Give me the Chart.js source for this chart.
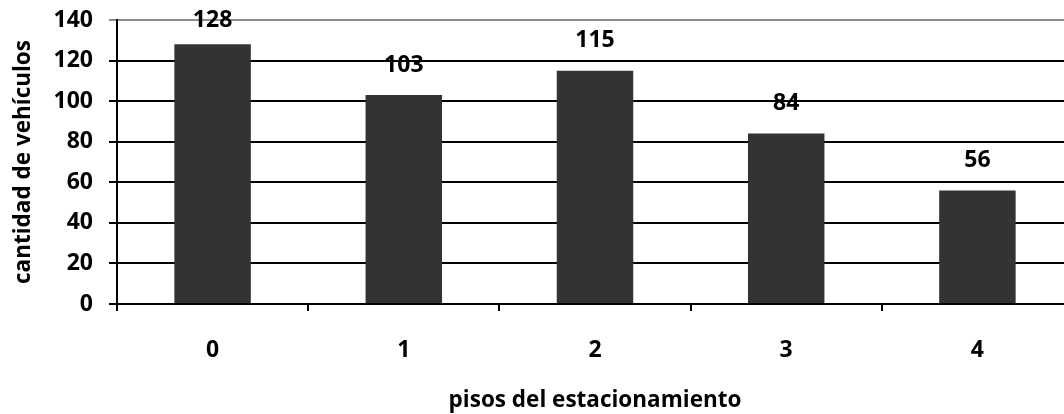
<!DOCTYPE html>
<html>
<head>
<meta charset="utf-8">
<script src="https://cdn.jsdelivr.net/npm/chart.js@4"></script>
<style>
  html, body { margin: 0; padding: 0; background: #fff; overflow: hidden; }
  #wrap { width: 1064px; height: 414px; overflow: hidden; }
  canvas { display: block; }
</style>
</head>
<body>
<div id="wrap"><canvas id="c" width="1073" height="414"></canvas></div>
<script>
const pisos = ['0', '1', '2', '3', '4'];
const vehiculos = [128, 103, 115, 84, 56];
const yTicks = [0, 20, 40, 60, 80, 100, 120, 140];

const FONT = "'Open Sans', 'Liberation Sans', sans-serif";
const SIZE = 23;

// Writes each bar's value above it, kept inside the plot's top edge
const valueLabels = {
  id: 'valueLabels',
  afterDatasetsDraw(chart) {
    const ctx = chart.ctx;
    const meta = chart.getDatasetMeta(0);
    ctx.save();
    ctx.font = `bold ${SIZE}px ${FONT}`;
    ctx.fillStyle = '#000';
    ctx.textAlign = 'center';
    ctx.textBaseline = 'middle';
    meta.data.forEach((bar, i) => {
      const y = Math.max(bar.y - 30, chart.chartArea.top);
      ctx.fillText(String(chart.data.datasets[0].data[i]), bar.x, y);
    });
    ctx.restore();
  }
};

new Chart(document.getElementById('c'), {
  type: 'bar',
  data: {
    labels: pisos,
    datasets: [{
      data: vehiculos,
      backgroundColor: '#333333',
      borderWidth: 0,
      barPercentage: 0.4,
      categoryPercentage: 1.0
    }]
  },
  options: {
    responsive: false,
    animation: false,
    layout: { padding: { top: 20, right: 0, left: 0, bottom: 0 } },
    plugins: {
      legend: { display: false },
      tooltip: { enabled: false }
    },
    scales: {
      x: {
        offset: true,
        grid: {
          offset: true,
          drawOnChartArea: false,
          drawTicks: true,
          tickLength: 7,
          color: '#000',
          lineWidth: 2
        },
        border: { color: '#000', width: 2 },
        ticks: {
          color: '#000',
          font: { family: FONT, size: SIZE, weight: 'bold' },
          padding: 26
        },
        title: {
          display: true,
          text: 'pisos del estacionamiento',
          color: '#000',
          font: { family: FONT, size: 22.5, weight: 'bold' },
          padding: { top: 0, bottom: 0 }
        },
        afterFit(scale) { scale.height = 110; }
      },
      y: {
        min: 0,
        max: 140,
        afterBuildTicks(scale) { scale.ticks = yTicks.map(v => ({ value: v })); },
        grid: {
          color: ctx => (ctx.tick && ctx.tick.value === 140 ? '#8c8c8c' : '#000'),
          lineWidth: 2,
          tickLength: 8,
          drawTicks: true
        },
        border: { color: '#000', width: 2 },
        ticks: {
          color: '#000',
          font: { family: FONT, size: SIZE, weight: 'bold' },
          padding: 16
        },
        title: {
          display: true,
          text: 'cantidad de vehículos',
          color: '#000',
          font: { family: FONT, size: 22.5, weight: 'bold' },
          padding: { top: 10, bottom: 0 }
        },
        afterFit(scale) {
          scale.width = 117;
          scale.paddingTop = 0;
          scale.paddingBottom = 0;
        }
      }
    }
  },
  plugins: [valueLabels]
});
</script>
</body>
</html>
